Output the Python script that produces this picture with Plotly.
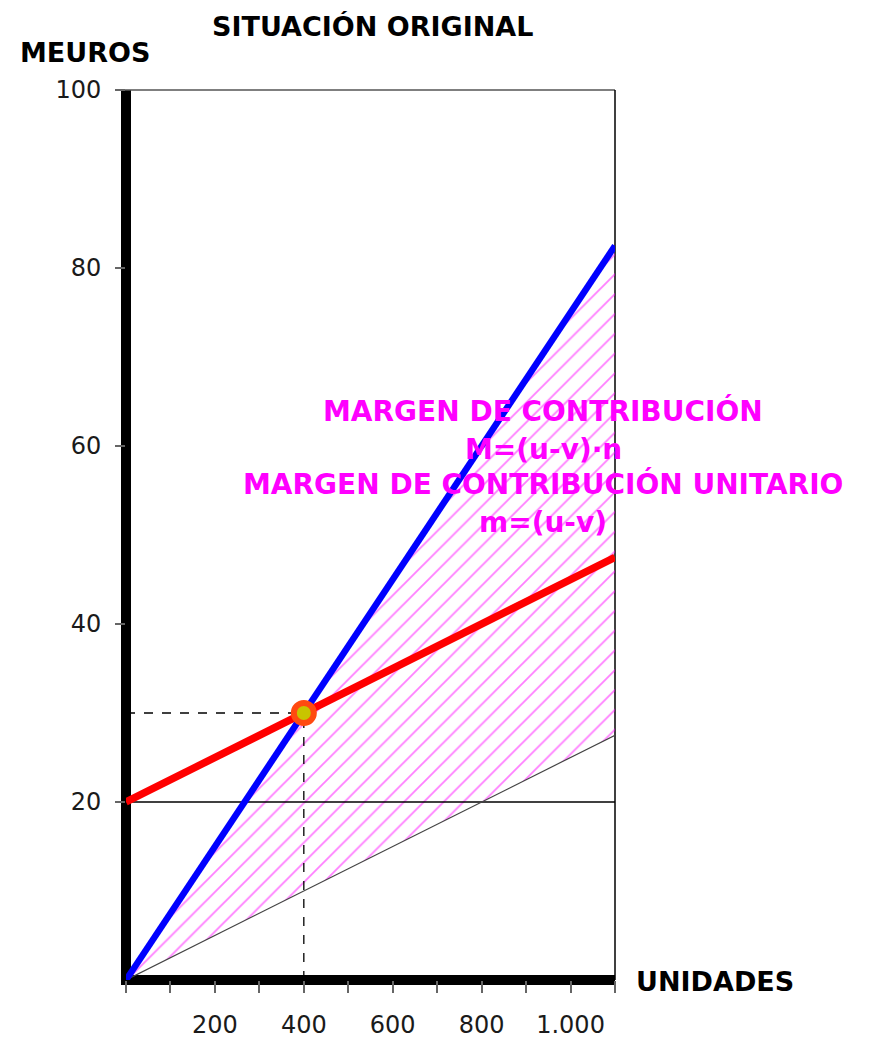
import plotly.graph_objects as go

# Break-even data (units vs. thousands of euros)
units = [0, 400, 1100]
revenue = [0, 30, 82.5]          # ingresos: u * n
total_cost = [20, 30, 47.5]      # costes totales: CF + v * n
variable_cost = [0, 10, 27.5]    # costes variables: v * n
fixed_cost = [20, 20, 20]        # costes fijos
break_even_units = [400]
break_even_value = [30]

x_tick_vals = [200, 400, 600, 800, 1000]
x_tick_text = ["200", "400", "600", "800", "1.000"]
y_tick_vals = [20, 40, 60, 80, 100]
y_tick_text = ["20", "40", "60", "80", "100"]

X_MAX = 1100
Y_MAX = 100

MAGENTA = "#FF00FF"
TITLE_FONT = dict(family="DejaVu Sans", size=27, color="black", weight="bold")
NOTE_FONT = dict(family="DejaVu Sans", size=28, color=MAGENTA, weight="bold")

fig = go.Figure()

# Contribution margin region (between revenue and variable cost), hatched
fig.add_trace(go.Scatter(
    x=units, y=variable_cost, mode="lines",
    line=dict(width=0), hoverinfo="skip", showlegend=False))
fig.add_trace(go.Scatter(
    x=units, y=revenue, mode="lines", fill="tonexty",
    fillcolor="rgba(0,0,0,0)",
    fillpattern=dict(shape="/", fgcolor=MAGENTA, bgcolor="rgba(255,255,255,0)",
                     size=14, solidity=0.13),
    line=dict(width=0), hoverinfo="skip", showlegend=False))

# Fixed cost level
fig.add_trace(go.Scatter(
    x=[units[0], units[-1]], y=[fixed_cost[0], fixed_cost[-1]], mode="lines",
    line=dict(color="black", width=1.3), hoverinfo="skip", showlegend=False))

# Variable cost line
fig.add_trace(go.Scatter(
    x=units, y=variable_cost, mode="lines",
    line=dict(color="#444444", width=1.2), hoverinfo="skip", showlegend=False))

# Dashed guides to the break-even point
fig.add_trace(go.Scatter(
    x=[units[0], break_even_units[0]], y=[break_even_value[0], break_even_value[0]],
    mode="lines", line=dict(color="black", width=1.3, dash="dash"),
    hoverinfo="skip", showlegend=False))
fig.add_trace(go.Scatter(
    x=[break_even_units[0], break_even_units[0]], y=[0, break_even_value[0]],
    mode="lines", line=dict(color="black", width=1.3, dash="dash"),
    hoverinfo="skip", showlegend=False))

# Total cost and revenue lines
fig.add_trace(go.Scatter(
    x=units, y=total_cost, mode="lines", cliponaxis=False,
    line=dict(color="#FF0000", width=7.5), hoverinfo="skip", showlegend=False))
fig.add_trace(go.Scatter(
    x=units, y=revenue, mode="lines", cliponaxis=False,
    line=dict(color="#0000FF", width=6.5), hoverinfo="skip", showlegend=False))

# Break-even point
fig.add_trace(go.Scatter(
    x=break_even_units, y=break_even_value, mode="markers",
    marker=dict(size=20, color="#C8C400", line=dict(color="#FF4A10", width=6)),
    hoverinfo="skip", showlegend=False))

# Frame: thick axes on the left and bottom, thin border top and right
fig.add_shape(type="path", xref="paper", yref="paper",
              path="M0,1 L0,0 L1,0",
              line=dict(color="black", width=10), layer="below")
fig.add_shape(type="line", xref="paper", yref="paper", x0=-0.02, y0=1, x1=1, y1=1,
              line=dict(color="#555555", width=1.5), layer="below")
fig.add_shape(type="line", xref="paper", yref="paper", x0=1, y0=0, x1=1, y1=1,
              line=dict(color="black", width=1.5), layer="below")

# Titles
titles = [
    ("SITUACIÓN ORIGINAL", 0.505, 1.0708),
    ("MEUROS", -0.0838, 1.0416),
    ("UNIDADES", 1.2045, -0.0022),
]
for text, xpos, ypos in titles:
    fig.add_annotation(x=xpos, y=ypos, xref="paper", yref="paper", text=text,
                       xanchor="center", yanchor="middle",
                       showarrow=False, font=TITLE_FONT)

# Contribution margin notes
notes = [
    ("MARGEN DE CONTRIBUCIÓN", 0.6393),
    ("M=(u-v)·n", 0.5966),
    ("MARGEN DE CONTRIBUCIÓN UNITARIO", 0.5573),
    ("m=(u-v)", 0.5146),
]
for text, ypos in notes:
    fig.add_annotation(x=0.8528, y=ypos, xref="paper", yref="paper", text=text,
                       xanchor="center", yanchor="middle",
                       showarrow=False, font=NOTE_FONT)

tick_font = dict(family="DejaVu Sans", size=24, color="#1a1a1a")

fig.update_xaxes(
    range=[0, X_MAX], showgrid=False, zeroline=False, showline=False,
    automargin=False,
    tickmode="array", tickvals=x_tick_vals, ticktext=x_tick_text,
    ticks="outside", ticklen=12, tickwidth=1.5, tickcolor="#666666",
    minor=dict(dtick=100, tick0=0, ticks="outside", ticklen=12,
               tickwidth=1.5, tickcolor="#666666"),
    tickfont=tick_font, ticklabelstandoff=11, fixedrange=True)
fig.update_yaxes(
    range=[0, Y_MAX], showgrid=False, zeroline=False, showline=False,
    automargin=False,
    tickmode="array", tickvals=y_tick_vals, ticktext=y_tick_text,
    ticks="outside", ticklen=10, tickwidth=1.5, tickcolor="#666666",
    tickfont=tick_font, ticklabelstandoff=9, fixedrange=True)

fig.update_layout(
    width=872, height=1041,
    margin=dict(l=126, r=257, t=90, b=61),
    plot_bgcolor="white", paper_bgcolor="white",
    showlegend=False)

fig.write_html("out.html")
